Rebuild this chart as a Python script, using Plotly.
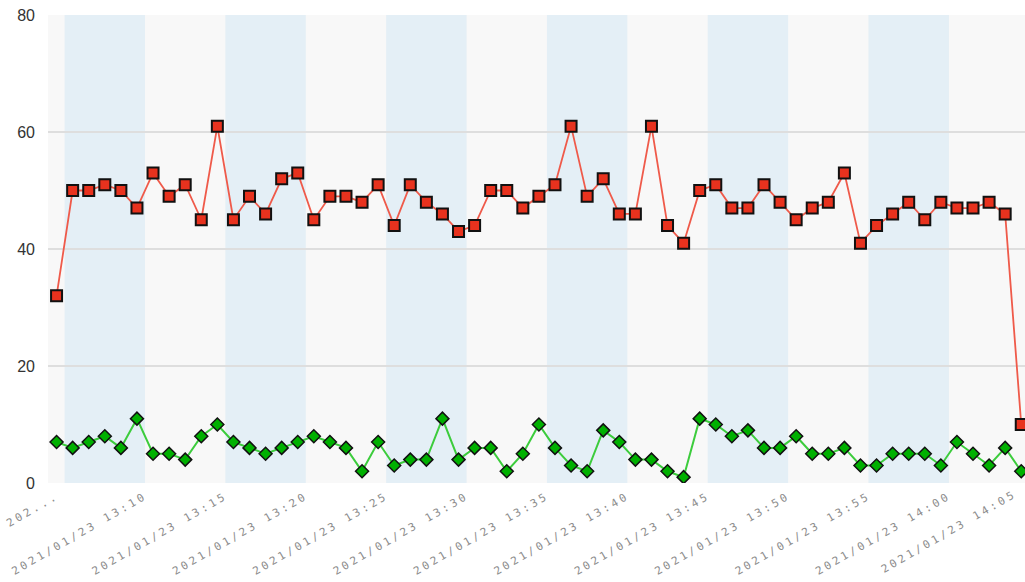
import pandas as pd
import plotly.graph_objects as go

# Per-minute samples, 13:04:30 through 14:04:30
times = pd.date_range("2021-01-23 13:04:30", periods=61, freq="1min")

red_values = [32, 50, 50, 51, 50, 47, 53, 49, 51, 45,
              61, 45, 49, 46, 52, 53, 45, 49, 49, 48,
              51, 44, 51, 48, 46, 43, 44, 50, 50, 47,
              49, 51, 61, 49, 52, 46, 46, 61, 44, 41,
              50, 51, 47, 47, 51, 48, 45, 47, 48, 53,
              41, 44, 46, 48, 45, 48, 47, 47, 48, 46,
              10]

green_values = [7, 6, 7, 8, 6, 11, 5, 5, 4, 8,
                10, 7, 6, 5, 6, 7, 8, 7, 6, 2,
                7, 3, 4, 4, 11, 4, 6, 6, 2, 5,
                10, 6, 3, 2, 9, 7, 4, 4, 2, 1,
                11, 10, 8, 9, 6, 6, 8, 5, 5, 6,
                3, 3, 5, 5, 5, 3, 7, 5, 3, 6,
                2]

tick_times = ["2021-01-23 13:04:30", "2021-01-23 13:10", "2021-01-23 13:15",
              "2021-01-23 13:20", "2021-01-23 13:25", "2021-01-23 13:30",
              "2021-01-23 13:35", "2021-01-23 13:40", "2021-01-23 13:45",
              "2021-01-23 13:50", "2021-01-23 13:55", "2021-01-23 14:00"]
tick_labels = ["202...", "2021/01/23 13:10", "2021/01/23 13:15",
               "2021/01/23 13:20", "2021/01/23 13:25", "2021/01/23 13:30",
               "2021/01/23 13:35", "2021/01/23 13:40", "2021/01/23 13:45",
               "2021/01/23 13:50", "2021/01/23 13:55", "2021/01/23 14:00"]
overflow_label = "2021/01/23 14:05"

# Alternating 5-minute shaded bands
band_starts = ["2021-01-23 13:05", "2021-01-23 13:15", "2021-01-23 13:25",
               "2021-01-23 13:35", "2021-01-23 13:45", "2021-01-23 13:55"]

x_range = [pd.Timestamp("2021-01-23 13:03:58"), pd.Timestamp("2021-01-23 14:04:44")]

fig = go.Figure()

fig.add_trace(go.Scatter(
    x=times, y=green_values, mode="lines+markers",
    line=dict(color="#3ccc3c", width=2),
    marker=dict(symbol="diamond", size=10, color="#00b000",
                line=dict(color="#111111", width=1.5)),
    showlegend=False,
))
fig.add_trace(go.Scatter(
    x=times, y=red_values, mode="lines+markers",
    line=dict(color="#ef5a4a", width=1.8),
    marker=dict(symbol="square", size=11, color="#e8321e",
                line=dict(color="#111111", width=2)),
    showlegend=False,
))

for s in band_starts:
    t0 = pd.Timestamp(s)
    fig.add_shape(type="rect", xref="x", yref="paper",
                  x0=t0, x1=t0 + pd.Timedelta(minutes=5), y0=0, y1=1,
                  fillcolor="rgba(195,223,242,0.38)", line_width=0,
                  layer="between")

# Label for the 14:05 tick, which sits just past the right edge
x0_px, x1_px = 48, 1025
span_s = (x_range[1] - x_range[0]).total_seconds()
px_per_s = (x1_px - x0_px) / span_s
t_1405 = pd.Timestamp("2021-01-23 14:05")
paper_x = ((t_1405 - x_range[0]).total_seconds() * px_per_s - 28) / (x1_px - x0_px)
fig.add_annotation(text=overflow_label, xref="paper", yref="paper",
                   x=paper_x, y=-0.03, xanchor="right", yanchor="top",
                   textangle=-30, showarrow=False,
                   font=dict(family="DejaVu Sans Mono", size=11, color="#8c8c8c"))

fig.update_layout(
    width=1025, height=582,
    margin=dict(l=48, r=0, t=15, b=99),
    paper_bgcolor="white",
    plot_bgcolor="#f8f8f8",
    showlegend=False,
)
fig.update_xaxes(
    type="date", range=x_range,
    tickmode="array", tickvals=[pd.Timestamp(t) for t in tick_times],
    ticktext=tick_labels, tickangle=-30,
    tickfont=dict(family="DejaVu Sans Mono", size=11, color="#8c8c8c"),
    showgrid=False, zeroline=False, showline=False, ticks="",
    ticklabelstandoff=4,
)
fig.update_yaxes(
    range=[0, 80], tickmode="array", tickvals=[0, 20, 40, 60, 80],
    tickfont=dict(family="Liberation Sans", size=16, color="#333333"),
    showgrid=True, gridcolor="#dedede", gridwidth=2,
    zeroline=False, showline=False, ticks="", ticklabelstandoff=12,
)

post = """
var gd = document.getElementById('{plot_id}');
function spaceLabels(){
  gd.querySelectorAll('.xtick text, .annotation-text').forEach(function(t){
    t.style.letterSpacing = '3px';
  });
}
spaceLabels();
gd.on('plotly_afterplot', spaceLabels);
"""

fig.write_html("out.html", post_script=post)
